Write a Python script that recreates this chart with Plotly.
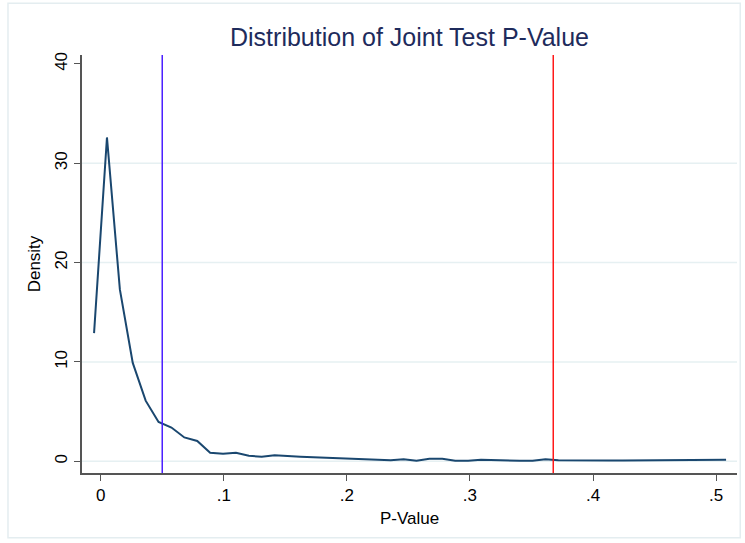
import plotly.graph_objects as go

# Kernel-density style curve: evaluation points and density values
p_values = [-0.0054 + i * 0.01048 for i in range(50)]
density = [12.9, 32.6, 17.3, 9.9, 6.1, 3.95, 3.4, 2.4, 2.05, 0.85,
           0.75, 0.85, 0.55, 0.45, 0.6, 0.5, 0.45, 0.4, 0.35, 0.25,
           0.2, 0.15, 0.1, 0.1, 0.2, 0.05, 0.25, 0.25, 0.05, 0.05,
           0.15, 0.1, 0.05, 0.05, 0.05, 0.2, 0.1, 0.08, 0.08, 0.08,
           0.08, 0.08, 0.08, 0.08, 0.08, 0.08, 0.08, 0.08, 0.1, 0.15]

blue_line_x = 0.05
red_line_x = 0.3677

x_ticks = [0, 0.1, 0.2, 0.3, 0.4, 0.5]
x_tick_labels = ["0", ".1", ".2", ".3", ".4", ".5"]
y_ticks = [0, 10, 20, 30, 40]
y_tick_labels = ["0", "10", "20", "30", "40"]
grid_values = [0, 10, 20, 30]

FONT = "Liberation Sans, Arial, Helvetica, sans-serif"

fig = go.Figure()
fig.add_trace(go.Scatter(x=p_values, y=density, mode="lines",
                         line=dict(color="#1a476f", width=2),
                         showlegend=False, hoverinfo="skip"))

shapes = []
for g in grid_values:
    shapes.append(dict(type="line", xref="paper", yref="y", x0=0, x1=1, y0=g, y1=g,
                       line=dict(color="#e6f0f2", width=1.5), layer="below"))
shapes.append(dict(type="line", xref="x", yref="paper", x0=blue_line_x, x1=blue_line_x,
                   y0=0, y1=1, line=dict(color="#4a1fff", width=1.5)))
shapes.append(dict(type="line", xref="x", yref="paper", x0=red_line_x, x1=red_line_x,
                   y0=0, y1=1, line=dict(color="#ff1a1a", width=1.5)))
# outer light frame
shapes.append(dict(type="rect", xref="paper", yref="paper",
                   x0=-0.113, x1=1.005, y0=-0.155, y1=1.124,
                   line=dict(color="#e4edf0", width=1.5), fillcolor="rgba(0,0,0,0)",
                   layer="below"))

fig.update_layout(
    width=745, height=543,
    margin=dict(l=82, r=8, t=55, b=70, autoexpand=False),
    paper_bgcolor="white", plot_bgcolor="white",
    font=dict(family=FONT, color="black", size=17),
    title=dict(text="Distribution of Joint Test P-Value", x=0.5, xref="paper",
               y=1 - 37 / 543, yanchor="middle", automargin=False,
               font=dict(family=FONT, size=25, color="#1e2b5c")),
    shapes=shapes,
    xaxis=dict(range=[-0.0152, 0.517], tickvals=x_ticks, ticktext=x_tick_labels,
               showgrid=False, zeroline=False, showline=True, linecolor="#555555",
               linewidth=1.5, ticks="outside", ticklen=6, tickcolor="#555555",
               tickfont=dict(size=17), automargin=False,
               title=dict(text="P-Value", font=dict(size=17), standoff=8)),
    yaxis=dict(range=[-1.18, 40.9], tickvals=y_ticks, ticktext=y_tick_labels,
               showgrid=False, zeroline=False, showline=True, linecolor="#555555",
               linewidth=1.5, ticks="outside", ticklen=6, tickcolor="#555555",
               tickangle=-90, tickfont=dict(size=17), automargin=False,
               title=dict(text="Density", font=dict(size=17), standoff=8)),
)

fig.write_html("out.html", config={"displayModeBar": False},
               post_script="document.body.style.margin='0';")
